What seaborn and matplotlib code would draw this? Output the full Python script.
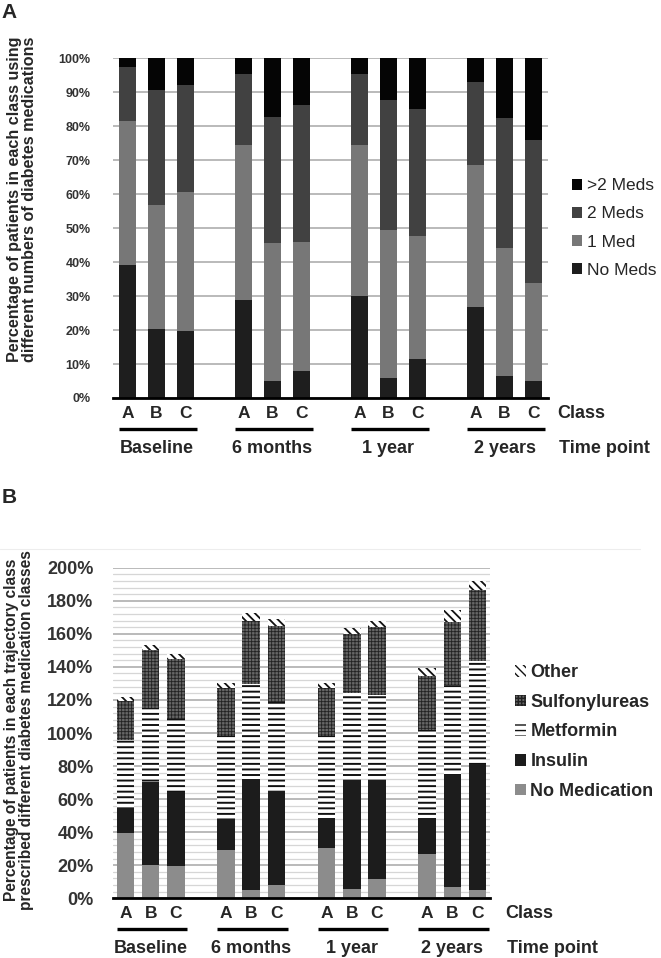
import numpy as np
import pandas as pd
import matplotlib
matplotlib.use('Agg')
import matplotlib.pyplot as plt
import matplotlib.transforms as mtransforms
from matplotlib.patches import Patch
from matplotlib.lines import Line2D
import seaborn as sns

# ---- data (percent of patients), order: Baseline A,B,C | 6 months A,B,C | 1 year A,B,C | 2 years A,B,C
time_points = ['Baseline', '6 months', '1 year', '2 years']
classes = ['A', 'B', 'C']

# panel A - number of medications
no_meds = [39.2, 20.3, 19.6, 28.9, 5.0, 7.9, 30.1, 5.9, 11.6, 26.7, 6.6, 5.0]
one_med = [42.3, 36.5, 41.1, 45.6, 40.6, 38.0, 44.4, 43.7, 36.2, 41.9, 37.5, 29.0]
two_meds = [15.8, 34.0, 31.4, 21.0, 37.0, 40.4, 21.0, 38.0, 37.4, 24.4, 38.4, 42.0]
more_meds = [2.7, 9.2, 7.9, 4.5, 17.4, 13.7, 4.5, 12.4, 14.8, 7.0, 17.5, 24.0]

# panel B - medication classes
no_medication = [39.5, 20.3, 19.6, 29.0, 5.0, 7.9, 30.5, 5.9, 11.6, 27.0, 6.6, 5.0]
insulin = [15.0, 50.2, 44.5, 18.8, 67.2, 57.0, 18.3, 65.7, 60.0, 21.8, 68.0, 76.2]
metformin = [41.3, 44.4, 44.4, 50.4, 57.3, 53.7, 49.4, 52.4, 51.4, 53.0, 54.4, 62.4]
sulfonylureas = [23.3, 35.3, 36.1, 28.8, 38.4, 46.4, 28.8, 35.8, 41.3, 32.7, 38.4, 42.9]
other = [2.5, 3.0, 3.0, 3.0, 4.5, 4.0, 3.0, 3.5, 3.5, 5.0, 7.0, 5.5]

labels_a = ['No Meds', '1 Med', '2 Meds', '>2 Meds']
labels_b = ['No Medication', 'Insulin', 'Metformin', 'Sulfonylureas', 'Other']

# bar positions: three classes per time point, one empty slot between groups
pos = [g * 4 + c for g in range(len(time_points)) for c in range(len(classes))]

sns.set_theme(style='white')
plt.rcParams['font.family'] = ['Liberation Sans', 'DejaVu Sans']

W, H = 661, 958
fig = plt.figure(figsize=(W / 100, H / 100), dpi=100)


def fx(x):
    return x / W


def fy(y):
    return 1 - y / H


styles_a = [
    dict(color='#1e1e1e', edgecolor='#1e1e1e'),
    dict(color='#777777', edgecolor='#777777'),
    dict(color='#414141', edgecolor='#414141'),
    dict(color='#050505', edgecolor='#050505'),
]
styles_b = [
    dict(color='#8c8c8c', edgecolor='#8c8c8c', hatch=None, hlw=1.0),
    dict(color='#1c1c1c', edgecolor='#1c1c1c', hatch=None, hlw=1.0),
    dict(color='#ffffff', edgecolor='#111111', hatch='---', hlw=1.4),
    dict(color='#666666', edgecolor='#222222', hatch='+++++', hlw=0.6),
    dict(color='#ffffff', edgecolor='#111111', hatch='\\\\\\\\', hlw=1.3),
]


def stacked_bars(ax, layers, styles, width):
    cum = np.cumsum(np.array(layers), axis=0)
    # draw the cumulative totals from the top layer down so each layer covers the one above
    for i in range(len(layers) - 1, -1, -1):
        st = dict(styles[i])
        hlw = st.pop('hlw', None)
        n_before = len(ax.patches)
        df = pd.DataFrame({'pos': pos, 'val': cum[i]})
        sns.barplot(data=df, x='pos', y='val', native_scale=True, width=width,
                    errorbar=None, saturation=1, linewidth=0, ax=ax, **st)
        if hlw is not None:
            for p in ax.patches[n_before:]:
                if hasattr(p, 'set_hatch_linewidth'):
                    p.set_hatch_linewidth(hlw)
    ax.set(xlabel='', ylabel='')


def under_labels(ax, width, y_base, x_right):
    tr = mtransforms.blended_transform_factory(ax.transData, fig.transFigure)
    for i, p in enumerate(pos):
        fig.text(p, fy(y_base + 15), classes[i % 3], transform=tr, ha='center', va='center',
                 fontsize=12.5, fontweight='bold')
    for g, name in enumerate(time_points):
        x0 = g * 4 - width / 2
        x1 = g * 4 + 2 + width / 2 + 0.1
        fig.add_artist(Line2D([x0, x1], [fy(y_base + 31)] * 2, transform=tr, color='black',
                              lw=2.4, solid_capstyle='butt'))
        fig.text(g * 4 + 1, fy(y_base + 50), name, transform=tr, ha='center', va='center',
                 fontsize=13, fontweight='bold')
    fig.text(fx(x_right), fy(y_base + 15), 'Class', ha='left', va='center', fontsize=13,
             fontweight='bold')
    fig.text(fx(x_right + 2), fy(y_base + 50), 'Time point', ha='left', va='center', fontsize=13,
             fontweight='bold')


# ---------------- panel A ----------------
axA = fig.add_axes([fx(113), fy(398), fx(548 - 113), (398 - 58.3) / H])
stacked_bars(axA, [no_meds, one_med, two_meds, more_meds], styles_a, 0.6)
axA.set_xlim(-0.5, 14.5)
axA.set_ylim(0, 100)
axA.set_yticks(np.arange(0, 101, 10))
axA.set_yticklabels([f'{v}%' for v in range(0, 101, 10)])
axA.set_xticks([])
axA.set_axisbelow(True)
axA.yaxis.grid(True, color='#b4b4b4', lw=1.3)
axA.tick_params(axis='y', length=0, pad=16, labelsize=9, labelcolor='#333333')
for t in axA.get_yticklabels():
    t.set_fontweight('bold')
for s in ['top', 'right', 'left']:
    axA.spines[s].set_visible(False)
axA.spines['bottom'].set_color('black')
axA.spines['bottom'].set_linewidth(2.0)
under_labels(axA, 0.6, 398, 557)

handles_a = [Patch(facecolor=st['color'], edgecolor='none', label=lab)
             for st, lab in zip(styles_a, labels_a)][::-1]
fig.legend(handles=handles_a, loc='center left', bbox_to_anchor=(fx(572), fy(228)), frameon=False,
           fontsize=12.5, handlelength=0.6, handleheight=0.6, handletextpad=0.25, labelspacing=0.75,
           borderpad=0, borderaxespad=0)

fig.text(fx(9), fy(13), 'A', ha='center', va='center', fontsize=15, fontweight='bold')
fig.text(fx(22), fy(199), 'Percentage of patients in each class using\ndifferent numbers of diabetes medications',
         rotation=90, ha='center', va='center', fontsize=11.6, fontweight='bold', linespacing=0.92)

# ---------------- panel B ----------------
fig.add_artist(Line2D([0, fx(640)], [fy(549)] * 2, transform=fig.transFigure, color='#ededed', lw=0.8))

axB = fig.add_axes([fx(113), fy(898.3), fx(490 - 113), (898.3 - 567.7) / H])
stacked_bars(axB, [no_medication, insulin, metformin, sulfonylureas, other], styles_b, 0.7)
axB.set_xlim(-0.5, 14.5)
axB.set_ylim(0, 200)
axB.set_yticks(np.arange(0, 201, 20))
axB.set_yticklabels([f'{v}%' for v in range(0, 201, 20)])
axB.set_yticks(np.arange(0, 201, 4), minor=True)
axB.set_xticks([])
axB.set_axisbelow(True)
axB.yaxis.grid(True, which='major', color='#b4b4b4', lw=1.3)
axB.yaxis.grid(True, which='minor', color='#d6d6d6', lw=0.9)
axB.tick_params(axis='y', which='both', length=0, pad=14, labelsize=13, labelcolor='#333333')
for t in axB.get_yticklabels():
    t.set_fontweight('bold')
for s in ['top', 'right', 'left']:
    axB.spines[s].set_visible(False)
axB.spines['bottom'].set_color('black')
axB.spines['bottom'].set_linewidth(2.0)
under_labels(axB, 0.7, 898.3, 505)

handles_b = []
for st, lab in zip(styles_b, labels_b):
    h = Patch(facecolor=st['color'], edgecolor=st['edgecolor'], hatch=st['hatch'], lw=0, label=lab)
    if hasattr(h, 'set_hatch_linewidth'):
        h.set_hatch_linewidth(st['hlw'])
    handles_b.append(h)
fig.legend(handles=handles_b[::-1], loc='center left', bbox_to_anchor=(fx(515), fy(732)), frameon=False,
           prop={'size': 13, 'weight': 'bold'}, handlelength=0.6, handleheight=0.6,
           handletextpad=0.25, labelspacing=0.7, borderpad=0, borderaxespad=0)

fig.text(fx(9), fy(498), 'B', ha='center', va='center', fontsize=15, fontweight='bold')
fig.text(fx(19), fy(730), 'Percentage of patients in each trajectory class\nprescribed different diabetes medication classes',
         rotation=90, ha='center', va='center', fontsize=11.2, fontweight='bold', linespacing=0.92)

fig.savefig('out.png', dpi=100)
